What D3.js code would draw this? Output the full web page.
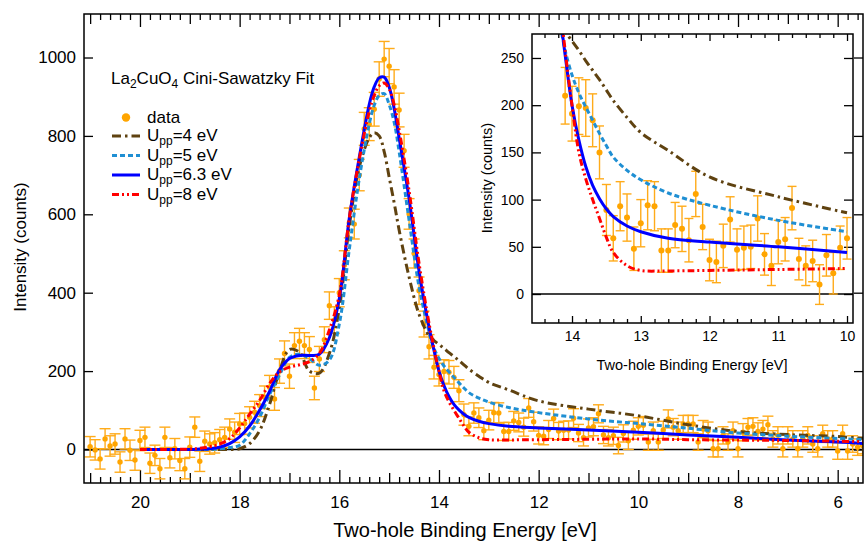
<!DOCTYPE html>
<html><head><meta charset="utf-8">
<script src="https://cdn.jsdelivr.net/npm/d3@7/dist/d3.min.js"></script>
<style>
body{margin:0;background:#fff;}
svg text{font-family:"Liberation Sans",Arial,Helvetica,sans-serif;fill:#000;}
</style></head><body>
<svg id="chart" width="864" height="542"></svg>
<script>
// ---------- DATA ----------
const dataE = [
21.0,20.9,20.8,20.7,20.6,20.5,20.4,20.3,20.2,20.1,
20.0,19.9,19.8,19.7,19.6,19.5,19.4,19.3,19.2,19.1,
19.0,18.9,18.8,18.7,18.6,18.5,18.4,18.3,18.2,18.1,
18.0,17.9,17.8,17.7,17.6,17.5,17.4,17.3,17.2,17.1,
17.0,16.9,16.8,16.7,16.6,16.5,16.4,16.3,16.2,16.1,
16.0,15.9,15.8,15.7,15.6,15.5,15.4,15.3,15.2,15.1,
15.0,14.9,14.8,14.7,14.6,14.5,14.4,14.3,14.2,14.1,
14.0,13.9,13.8,13.7,13.6,13.5,13.4,13.3,13.2,13.1,
13.0,12.9,12.8,12.7,12.6,12.5,12.4,12.3,12.2,12.1,
12.0,11.9,11.8,11.7,11.6,11.5,11.4,11.3,11.2,11.1,
11.0,10.9,10.8,10.7,10.6,10.5,10.4,10.3,10.2,10.1,
10.0,9.9,9.8,9.7,9.6,9.5,9.4,9.3,9.2,9.1,
9.0,8.9,8.8,8.7,8.6,8.5,8.4,8.3,8.2,8.1,
8.0,7.9,7.8,7.7,7.6,7.5,7.4,7.3,7.2,7.1,
7.0,6.9,6.8,6.7,6.6,6.5,6.4,6.3,6.2,6.1,
6.0,5.9,5.8,5.7,5.6,5.5];
const dataI = [
7,-1,-24,27,9,14,-32,27,-2,-27,
23,31,-35,-15,-49,31,-21,2,-28,-49,
6,57,-30,21,14,17,25,31,52,44,
65,66,82,95,112,133,159,129,200,245,
187,265,276,265,255,157,231,280,367,330,
400,470,578,575,700,818,830,868,945,996,
978,925,866,762,601,500,405,320,262,210,
191,199,197,184,150,89,59,93,81,48,
75,94,93,46,46,73,69,57,106,71,
36,34,51,79,47,49,50,80,42,30,
55,58,91,37,30,35,10,41,22,49,
59,62,19,48,19,50,78,57,48,65,
65,65,19,52,48,2,2,36,19,48,
2,44,57,59,46,52,63,27,36,2,
36,27,2,27,36,14,2,40,27,27,
-4,40,-4,14,6,10];
const dataErr = [
26,26,26,26,26,26,26,26,26,26,
26,26,26,26,26,26,26,26,26,26,
26,26,26,26,26,26,26,26,26,26,
27,27,27,28,28,29,30,29,31,32,
31,33,33,33,33,30,32,33,35,34,
36,37,38,38,40,42,42,43,44,45,
45,44,43,42,39,37,35,33,31,30,
29,30,30,28,28,27,24,26,25,23,
25,26,26,23,23,24,24,23,24,24,
22,22,23,24,22,23,23,24,22,21,
23,23,23,22,21,22,21,22,22,23,
22,22,21,22,21,22,23,22,22,22,
22,22,21,22,22,21,21,22,21,22,
21,22,22,22,22,22,22,21,22,21,
22,21,21,21,22,21,21,22,21,21,
21,22,21,21,21,21];

const curveE = [20.0,19.5,19.0,18.8,18.6,18.4,18.2,18.0,
17.8,17.6,17.4,17.2,17.0,16.8,16.6,16.4,
16.2,16.0,15.8,15.6,15.4,15.3,15.2,15.1,
15.0,14.9,14.8,14.6,14.4,14.2,14.15,14.1,14.0,
13.9,13.8,13.7,13.6,13.5,13.4,13.2,13.0,
12.6,12.0,11.0,10.0,9.0,8.0,7.0,6.0,5.45];
const fitU4 = [0,0,0,0,0,0,0,2,
15,48,115,200,255,248,200,195,
245,360,570,720,795,808,800,760,
695,630,560,440,345,290,284,278,268,
258,247,237,227,216,205,187,171,
152,124,103,86,63,46,38,33,28];
const fitU5 = [0,0,0,0,0.5,2,5,11,
40,82,140,190,235,243,232,215,
228,320,510,690,830,878,903,908,
880,835,760,585,415,300,276,258,232,
213,198,184,170,157,145,131,121,
107,94,78,66,54,42,34,28,25];
const fitU63 = [0,0,0,1,2,6,15,32,
60,100,148,203,232,240,240,243,
285,385,590,745,880,925,948,950,
925,870,795,640,455,312,282,253,200,
163,135,115,101,90,82,72,66,
59,55,50,44,37,31,24,19,15];
const fitU8 = [0,0,1,3,7,14,28,55,
90,125,168,198,210,216,224,245,
305,395,590,740,862,903,928,935,
920,880,815,660,475,322,290,258,200,
150,122,100,80,60,44,30,25,
24.5,25,26,27,25,24,23,21,20];

const seriesNames = ["4","5","6.3","8"];
const seriesVals = [fitU4, fitU5, fitU63, fitU8];
const seriesColors = ["#5f4210","#1f8fd3","#0000ff","#ff0000"];
const seriesDash = ["9,4,2.5,4","5,3","","7,3,2,3,2,3"];

const xMajorTicks = [20,18,16,14,12,10,8,6];
const xMidTicks = [21,19,17,15,13,11,9,7];
const yTicks = [0,200,400,600,800,1000];
const insetXTicks = [14,13,12,11,10];
const insetYTicks = [0,50,100,150,200,250];

// ---------- SETUP ----------
const svg = d3.select("#chart");
const L=84, R=863, T=14, B=483;
const x = d3.scaleLinear().domain([21.123,5.492]).range([L,R]);
const y = d3.scaleLinear().domain([-85.5,1111]).range([B,T]);
const defs = svg.append("defs");
defs.append("clipPath").attr("id","clipMain").append("rect")
  .attr("x",L).attr("y",T).attr("width",R-L).attr("height",B-T);

const points = dataE.map((e,i)=>({e, v:dataI[i], err:dataErr[i]}));
const curves = seriesVals.map(vals => curveE.map((e,i)=>[e, vals[i]]));

function tickAxis(g, axis, sw){
  g.call(axis);
  g.select(".domain").remove();
  g.selectAll("line").attr("stroke","#000").attr("stroke-width", sw||1.3);
}
const minorX = d3.range(28,106).map(i=>+(i*0.2).toFixed(1)).filter(v=>Math.abs(v-Math.round(v))>1e-6);

// main ticks
[[minorX,6],[xMidTicks,10],[xMajorTicks,13]].forEach(([vals,len])=>{
  svg.append("g").attr("transform",`translate(0,${B})`)
    .call(g=>tickAxis(g, d3.axisTop(x).tickValues(vals).tickSize(len).tickFormat("")));
  svg.append("g").attr("transform",`translate(0,${T})`)
    .call(g=>tickAxis(g, d3.axisBottom(x).tickValues(vals).tickSize(len).tickFormat("")));
});
svg.append("g").attr("transform",`translate(${L},0)`)
  .call(g=>tickAxis(g, d3.axisRight(y).tickValues(yTicks).tickSize(9).tickFormat("")));
svg.append("g").attr("transform",`translate(${R},0)`)
  .call(g=>tickAxis(g, d3.axisLeft(y).tickValues(yTicks).tickSize(9).tickFormat("")));

// labels
const xl = svg.append("g").attr("transform",`translate(0,${B})`)
  .call(d3.axisBottom(x).tickValues(xMajorTicks).tickSize(0).tickPadding(13).tickFormat(d3.format("d")));
xl.select(".domain").remove();
xl.selectAll("text").attr("font-size",17).attr("font-family",null);
const yl = svg.append("g").attr("transform",`translate(${L},0)`)
  .call(d3.axisLeft(y).tickValues(yTicks).tickSize(0).tickPadding(8).tickFormat(d3.format("d")));
yl.select(".domain").remove();
yl.selectAll("text").attr("font-size",17).attr("font-family",null);

svg.append("text").attr("x",465).attr("y",537).attr("text-anchor","middle")
  .attr("font-size",20).text("Two-hole Binding Energy [eV]");
svg.append("text").attr("transform","translate(25.5,247) rotate(-90)").attr("text-anchor","middle")
  .attr("font-size",17).text("Intensity (counts)");

// plot content
const main = svg.append("g").attr("clip-path","url(#clipMain)");
main.append("line").attr("x1",L).attr("x2",R).attr("y1",y(0)).attr("y2",y(0))
  .attr("stroke","#000").attr("stroke-width",1.5);

function drawData(g, xs, ys, pts, cap, r){
  const eb = g.append("g").attr("stroke","#ffab1a").attr("stroke-width",1.4);
  pts.forEach(p=>{
    eb.append("line").attr("x1",xs(p.e)).attr("x2",xs(p.e)).attr("y1",ys(p.v-p.err)).attr("y2",ys(p.v+p.err));
    eb.append("line").attr("x1",xs(p.e)-cap).attr("x2",xs(p.e)+cap).attr("y1",ys(p.v-p.err)).attr("y2",ys(p.v-p.err));
    eb.append("line").attr("x1",xs(p.e)-cap).attr("x2",xs(p.e)+cap).attr("y1",ys(p.v+p.err)).attr("y2",ys(p.v+p.err));
  });
  g.append("g").selectAll("circle").data(pts).join("circle")
    .attr("cx",d=>xs(d.e)).attr("cy",d=>ys(d.v)).attr("r",r).attr("fill","#ffa500");
}
function drawCurves(g, xs, ys, filt){
  const line = d3.line().x(d=>xs(d[0])).y(d=>ys(d[1])).curve(d3.curveCatmullRom.alpha(0.5));
  curves.forEach((c,i)=>{
    g.append("path").datum(c.filter(filt)).attr("d",line).attr("fill","none")
      .attr("stroke",seriesColors[i]).attr("stroke-width",3)
      .attr("stroke-dasharray",seriesDash[i]||null);
  });
}
drawData(main, x, y, points, 5.5, 2.7);
drawCurves(main, x, y, d=>true);

// frame
svg.append("rect").attr("x",L).attr("y",T).attr("width",R-L).attr("height",B-T)
  .attr("fill","none").attr("stroke","#000").attr("stroke-width",1.5);

// legend
const lg = svg.append("g");
const title = lg.append("text").attr("x",111).attr("y",83.5).attr("font-size",17);
title.append("tspan").text("La");
title.append("tspan").attr("font-size",12).attr("dy",4).text("2");
title.append("tspan").attr("dy",-4).text("CuO");
title.append("tspan").attr("font-size",12).attr("dy",4).text("4");
title.append("tspan").attr("dy",-4).text(" Cini-Sawatzky Fit");
lg.append("circle").attr("cx",126).attr("cy",117.5).attr("r",4.2).attr("fill","#ffa500");
lg.append("text").attr("x",147).attr("y",122.5).attr("font-size",17).text("data");
const rowsY = [141,160.5,180,199.5];
seriesNames.forEach((n,i)=>{
  lg.append("line").attr("x1",112).attr("x2",140).attr("y1",rowsY[i]-5).attr("y2",rowsY[i]-5)
    .attr("stroke",seriesColors[i]).attr("stroke-width",3).attr("stroke-dasharray",seriesDash[i]||null);
  const t = lg.append("text").attr("x",147).attr("y",rowsY[i]).attr("font-size",17);
  t.append("tspan").text("U");
  t.append("tspan").attr("font-size",12).attr("dy",4).text("pp");
  t.append("tspan").attr("dy",-4).text(`=${n} eV`);
});

// ---------- INSET ----------
const iL=532, iR=853, iT=34, iB=323;
const xi = d3.scaleLinear().domain([14.582,9.913]).range([iL,iR]);
const yi = d3.scaleLinear().domain([-30.7,275.4]).range([iB,iT]);
defs.append("clipPath").attr("id","clipInset").append("rect")
  .attr("x",iL).attr("y",iT).attr("width",iR-iL).attr("height",iB-iT);
svg.append("rect").attr("x",iL).attr("y",iT).attr("width",iR-iL).attr("height",iB-iT).attr("fill","#fff");
const minorXi = d3.range(50,73).map(i=>+(i*0.2).toFixed(1)).filter(v=>Math.abs(v-Math.round(v))>1e-6);
[[minorXi,4],[insetXTicks,7]].forEach(([vals,len])=>{
  svg.append("g").attr("transform",`translate(0,${iB})`)
    .call(g=>tickAxis(g, d3.axisTop(xi).tickValues(vals).tickSize(len).tickFormat("")));
  svg.append("g").attr("transform",`translate(0,${iT})`)
    .call(g=>tickAxis(g, d3.axisBottom(xi).tickValues(vals).tickSize(len).tickFormat("")));
});
svg.append("g").attr("transform",`translate(${iL},0)`)
  .call(g=>tickAxis(g, d3.axisRight(yi).tickValues(insetYTicks).tickSize(9).tickFormat("")));
svg.append("g").attr("transform",`translate(${iR},0)`)
  .call(g=>tickAxis(g, d3.axisLeft(yi).tickValues(insetYTicks).tickSize(9).tickFormat("")));
const xli = svg.append("g").attr("transform",`translate(0,${iB})`)
  .call(d3.axisBottom(xi).tickValues(insetXTicks).tickSize(0).tickPadding(8).tickFormat(d3.format("d")));
xli.select(".domain").remove();
xli.selectAll("text").attr("font-size",14).attr("font-family",null);
const yli = svg.append("g").attr("transform",`translate(${iL},0)`)
  .call(d3.axisLeft(yi).tickValues(insetYTicks).tickSize(0).tickPadding(8).tickFormat(d3.format("d")));
yli.select(".domain").remove();
yli.selectAll("text").attr("font-size",14).attr("font-family",null);
svg.append("text").attr("x",692).attr("y",370).attr("text-anchor","middle")
  .attr("font-size",14.5).text("Two-hole Binding Energy [eV]");
svg.append("text").attr("transform","translate(491.5,178) rotate(-90)").attr("text-anchor","middle")
  .attr("font-size",14.5).text("Intensity (counts)");

const ins = svg.append("g").attr("clip-path","url(#clipInset)");
ins.append("line").attr("x1",iL).attr("x2",iR).attr("y1",yi(0)).attr("y2",yi(0))
  .attr("stroke","#000").attr("stroke-width",1.5);
drawData(ins, xi, yi, points.filter(p=>p.e<=14.1+1e-9 && p.e>=10-1e-9), 4.5, 3);
drawCurves(ins, xi, yi, d=>d[0]<=14.15+1e-9 && d[0]>=10-1e-9);
svg.append("rect").attr("x",iL).attr("y",iT).attr("width",iR-iL).attr("height",iB-iT)
  .attr("fill","none").attr("stroke","#000").attr("stroke-width",1.5);
</script></body></html>
